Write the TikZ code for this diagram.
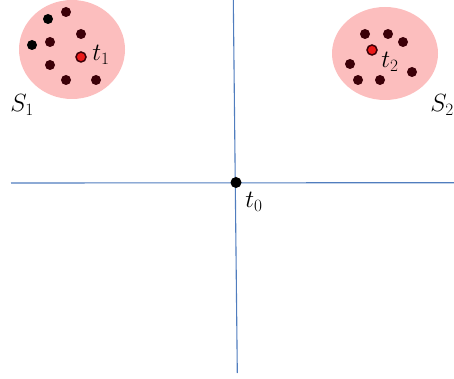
\documentclass[tikz,border=0pt]{standalone}
\begin{document}
\begin{tikzpicture}[x=1pt,y=-1pt,
  region/.style={fill=pinkfill,draw=none},
  axis/.style={draw=axisblue,line width=1.1pt},
  pt/.style={circle,fill=dotdark,draw=none,inner sep=0pt,minimum size=10pt},
  blk/.style={circle,fill=black,draw=none,inner sep=0pt,minimum size=10pt},
  tgt/.style={circle,fill=tred,draw=dotdark,line width=1.5pt,inner sep=0pt,minimum size=10pt},
  lbl/.style={inner sep=0pt,font=\fontsize{24}{28}\selectfont}]
\definecolor{pinkfill}{RGB}{252,190,190}
\definecolor{axisblue}{RGB}{80,125,190}
\definecolor{dotdark}{RGB}{60,0,8}
\definecolor{tred}{RGB}{235,25,25}
\useasboundingbox (0,0) rectangle (454,379);
% regions
\fill[region] (72,49.5) ellipse [x radius=53, y radius=49.5];
\fill[region] (385,53.5) ellipse [x radius=53, y radius=46.5];
% axes
\coordinate (hl) at (11,183);
\coordinate (hr) at (454,182.7);
\coordinate (vt) at (233.3,0);
\coordinate (vb) at (237.3,373);
\draw[axis] (hl) -- (hr);
\draw[axis] (vt) -- (vb);
% origin
\node[blk,minimum size=11pt] (t0) at (236,182.5) {};
\node[lbl] (t0l) at (254,202) {$t_0$};
% set 1
\node[pt] (a1) at (66,12) {};
\node[blk] (a2) at (48,19) {};
\node[pt] (a3) at (81,34) {};
\node[pt] (a4) at (50,42) {};
\node[blk] (a5) at (32,45) {};
\node[pt] (a6) at (50,65) {};
\node[pt] (a7) at (66,80) {};
\node[pt] (a8) at (96,80) {};
\node[tgt] (t1) at (81,57) {};
\node[lbl] (t1l) at (101,55) {$t_1$};
\node[lbl] (s1) at (22,105) {$S_1$};
% set 2
\node[pt] (b1) at (365,34) {};
\node[pt] (b2) at (388,34) {};
\node[pt] (b3) at (403,42) {};
\node[pt] (b4) at (350,64) {};
\node[pt] (b5) at (358,80) {};
\node[pt] (b6) at (380,80) {};
\node[pt] (b7) at (412,72) {};
\node[tgt] (t2) at (372,50) {};
\node[lbl] (t2l) at (390,62) {$t_2$};
\node[lbl] (s2) at (442,105) {$S_2$};
\end{tikzpicture}
\end{document}
